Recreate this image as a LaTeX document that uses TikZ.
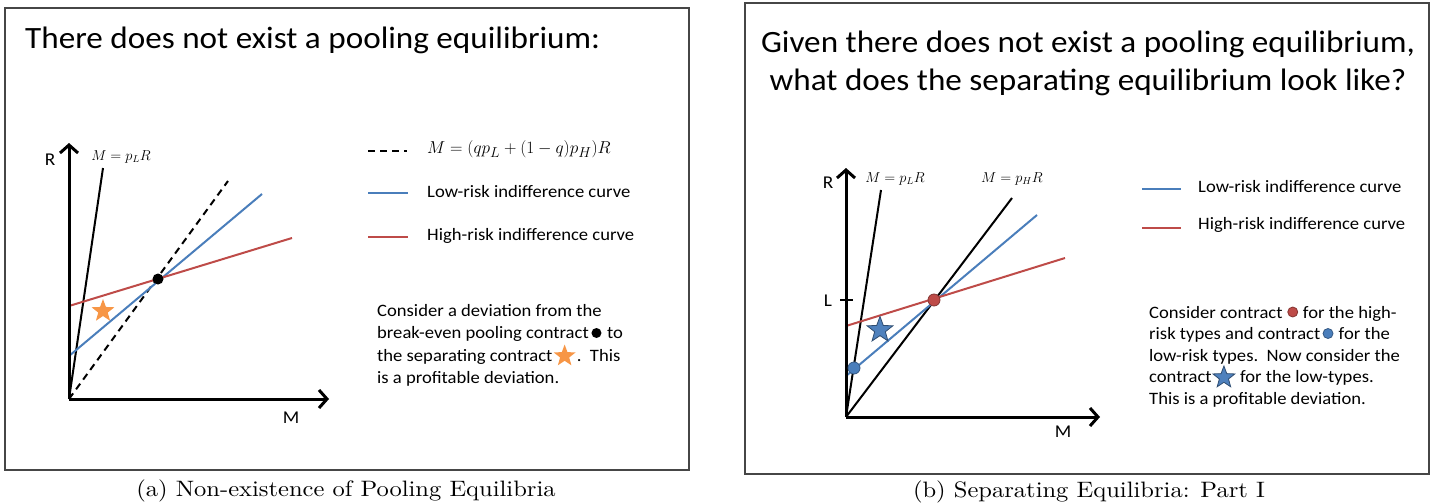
\documentclass[tikz,border=0pt]{standalone}
\usepackage{fontspec}
\newfontfamily\calfont{Carlito}[FakeStretch=1.07]
\newfontfamily\capfont{lmroman10-regular}[Extension=.otf,FakeStretch=1.1]
\usetikzlibrary{shapes.geometric,arrows.meta}
\definecolor{lblue}{RGB}{74,126,187}
\definecolor{lred}{RGB}{190,75,72}
\definecolor{lorange}{RGB}{247,150,70}
\definecolor{sblue}{RGB}{79,129,189}
\definecolor{framec}{RGB}{70,70,70}
\tikzset{
  framebox/.style={draw=framec,line width=1.5},
  axisln/.style={line width=3,-{Straight Barb[length=8,width=18,line width=3]}},
  blk/.style={line width=2,black},
  dashln/.style={line width=2,black,dash pattern=on 7 off 5},
  blueln/.style={line width=2,lblue},
  redln/.style={line width=2,lred},
  titletext/.style={inner sep=0,font=\calfont\fontsize{31}{36}\selectfont},
  legtext/.style={inner sep=0,font=\calfont\fontsize{17.4}{22}\selectfont},
  body/.style={inner sep=0,font=\calfont\fontsize{17.4}{22}\selectfont},
  axlbl/.style={inner sep=0,font=\calfont\fontsize{18}{20}\selectfont},
  mlbl/.style={inner sep=0,font=\fontsize{14}{16}\selectfont},
  legm/.style={inner sep=0,font=\fontsize{19}{23}\selectfont},
  captext/.style={inner sep=0,font=\capfont\fontsize{22.3}{27}\selectfont},
  starshape/.style={star,star points=5,star point ratio=2.4,inner sep=0},
  reddot/.style={fill=lred,draw=lred!70!black,line width=0.8},
  bluedot/.style={fill=lblue,draw=lblue!70!black,line width=0.8},
  bluestar/.style={starshape,fill=sblue,draw=sblue!60!black,line width=0.8},
}
\begin{document}
\begin{tikzpicture}[x=1pt,y=-1pt]
\useasboundingbox (0,0) rectangle (1433,503);
% ---------- panel (a) ----------
\draw[framebox] (5,8) rectangle (689,470);
\node[titletext,anchor=base west] (ta) at (25,49) {There does not exist a pooling equilibrium:};
\coordinate (OA) at (69,399);
\coordinate (YA) at (69,143);
\coordinate (XA) at (329,399);
\coordinate (pLa) at (103,168);
\coordinate (poolA) at (228,181);
\coordinate (blA1) at (69,356);
\coordinate (blA2) at (262,194);
\coordinate (rdA1) at (69,306);
\coordinate (rdA2) at (292,238);
\draw[dashln] (OA) -- (poolA);
\draw[blk] (OA) -- (pLa);
\draw[blueln] (blA1) -- (blA2);
\draw[redln] (rdA1) -- (rdA2);
\draw[axisln] (OA) -- (YA);
\draw[axisln] (OA) -- (XA);
\fill[black] (158,279) circle (5.5);
\node[starshape,fill=lorange,minimum size=24] (starA) at (103,311) {};
\node[axlbl] (RA) at (50,160) {R};
\node[axlbl] (MA) at (291,418) {M};
\node[mlbl] (pLlblA) at (121,157) {$M=p_LR$};
% legend
\coordinate (lgA1) at (368,151); \coordinate (lgA2) at (407,151);
\draw[dashln,line width=2.5] (lgA1) -- (lgA2);
\node[legm,anchor=west] (fA) at (427,149) {$M=(qp_L+(1-q)p_H)R$};
\coordinate (lgA3) at (368,193); \coordinate (lgA4) at (408,193);
\draw[blueln,line width=2.5] (lgA3) -- (lgA4);
\node[legtext,anchor=west] (lowA) at (427,192) {Low-risk indifference curve};
\coordinate (lgA5) at (368,237); \coordinate (lgA6) at (408,237);
\draw[redln,line width=2.5] (lgA5) -- (lgA6);
\node[legtext,anchor=west] (highA) at (427,236) {High-risk indifference curve};
% paragraph
\node[body,anchor=base west] (pa1) at (377,316) {Consider a deviation from the};
\node[body,anchor=base west] (pa2) at (377,338.5) {break-even pooling contract};
\fill[black] ([shift={(7.5,-5.5)}]pa2.base east) circle (5);
\node[body,anchor=base west] (pa2b) at ([xshift=18]pa2.base east) {to};
\node[body,anchor=base west] (pa3) at (377,361) {the separating contract};
\node[starshape,fill=lorange,minimum size=23] (starA2) at ([shift={(12,-5)}]pa3.base east) {};
\node[body,anchor=base west] (pa3b) at ([xshift=24]pa3.base east) {.\ \ This};
\node[body,anchor=base west] (pa4) at (377,383.5) {is a profitable deviation.};
\node[captext,anchor=base] (capA) at (346,496) {(a) Non-existence of Pooling Equilibria};
% ---------- panel (b) ----------
\draw[framebox] (745,3) rectangle (1429,474);
\node[titletext,anchor=base] (tb1) at (1088,53) {Given there does not exist a pooling equilibrium,};
\node[titletext,anchor=base] (tb2) at (1088,91) {what does the separating equilibrium look like?};
\coordinate (OB) at (846,417);
\coordinate (YB) at (846,168);
\coordinate (XB) at (1100,417);
\coordinate (pLb) at (881,190);
\coordinate (pHb) at (1012,198);
\coordinate (blB1) at (846,376);
\coordinate (blB2) at (1037,215);
\coordinate (rdB1) at (846,326);
\coordinate (rdB2) at (1065,258);
\coordinate (tk1) at (840,300);
\coordinate (tk2) at (853,300);
\draw[blk] (OB) -- (pLb);
\draw[blk] (OB) -- (pHb);
\draw[blueln] (blB1) -- (blB2);
\draw[redln] (rdB1) -- (rdB2);
\draw[axisln] (OB) -- (YB);
\draw[axisln] (OB) -- (XB);
\draw[line width=2] (tk1) -- (tk2);
\filldraw[reddot] (934,300) circle (6);
\filldraw[bluedot] (854,368) circle (6);
\node[bluestar,minimum size=27] (starB) at (880,330) {};
\node[axlbl] (RB) at (828,183) {R};
\node[axlbl] (LB) at (828,301) {L};
\node[axlbl] (MB) at (1063,432) {M};
\node[mlbl] (pLlblB) at (895,179) {$M=p_LR$};
\node[mlbl] (pHlblB) at (1012,179) {$M=p_HR$};
% legend
\coordinate (lgB1) at (1142,189); \coordinate (lgB2) at (1181,189);
\draw[blueln,line width=2.5] (lgB1) -- (lgB2);
\node[legtext,anchor=west] (lowB) at (1198,187) {Low-risk indifference curve};
\coordinate (lgB3) at (1142,228); \coordinate (lgB4) at (1181,228);
\draw[redln,line width=2.5] (lgB3) -- (lgB4);
\node[legtext,anchor=west] (highB) at (1198,225) {High-risk indifference curve};
% paragraph
\node[body,anchor=base west] (pb1) at (1149,318) {Consider contract};
\filldraw[reddot] ([shift={(10,-6)}]pb1.base east) circle (5);
\node[body,anchor=base west] (pb1b) at ([xshift=20]pb1.base east) {for the high-};
\node[body,anchor=base west] (pb2) at (1149,339.5) {risk types and contract};
\filldraw[bluedot] ([shift={(7.5,-6)}]pb2.base east) circle (5);
\node[body,anchor=base west] (pb2b) at ([xshift=18]pb2.base east) {for the};
\node[body,anchor=base west] (pb3) at (1149,361) {low-risk types.\ \ Now consider the};
\node[body,anchor=base west] (pb4) at (1149,382.5) {contract};
\node[bluestar,minimum size=23] (starB2) at ([shift={(12,-5)}]pb4.base east) {};
\node[body,anchor=base west] (pb4b) at ([xshift=28]pb4.base east) {for the low-types.};
\node[body,anchor=base west] (pb5) at (1149,404) {This is a profitable deviation.};
\node[captext,anchor=base] (capB) at (1089,497) {(b) Separating Equilibria: Part I};
\end{tikzpicture}
\end{document}
